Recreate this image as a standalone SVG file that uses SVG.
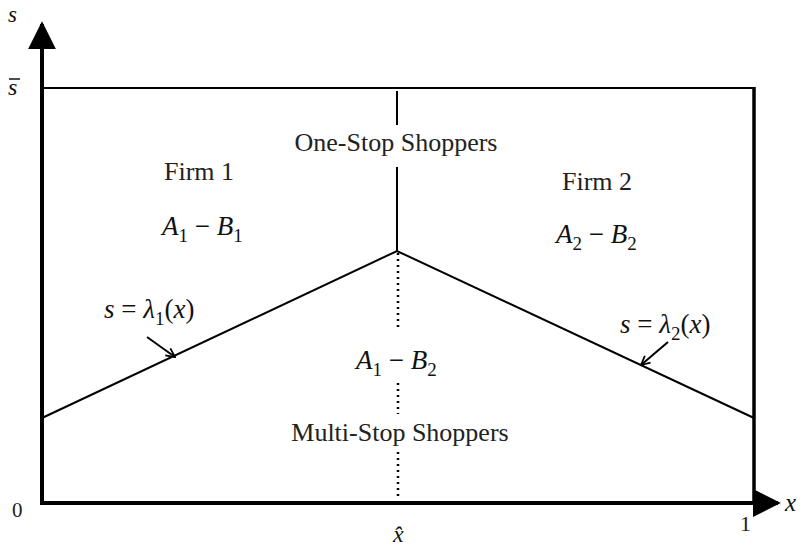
<svg xmlns="http://www.w3.org/2000/svg" width="805" height="550" viewBox="0 0 805 550">
<defs>
<style>
.t{font-family:"Liberation Serif","Times New Roman",serif;font-size:26px;fill:#222}
.m{font-family:"Liberation Serif","Times New Roman",serif;font-style:italic;font-size:27px;fill:#111}
.sub{font-size:19px;font-style:normal}
.ln{stroke:#000;fill:none}
</style>
<marker id="ah" viewBox="0 0 10 10" refX="9" refY="5" markerWidth="11" markerHeight="11" markerUnits="userSpaceOnUse" orient="auto">
<path d="M1,1 L9,5 L1,9" fill="none" stroke="#000" stroke-width="1.6"/>
</marker>
<marker id="axh" viewBox="0 0 10 10" refX="9" refY="5" markerWidth="7" markerHeight="7" orient="auto">
<path d="M0,0 L10,5 L0,10 z" fill="#000"/>
</marker>
</defs>
<rect width="805" height="550" fill="#fff"/>
<g id="connectors">
<line class="ln" x1="42" y1="503" x2="42" y2="24" stroke-width="4" marker-end="url(#axh)"/>
<line class="ln" x1="40" y1="503" x2="778" y2="503" stroke-width="4" marker-end="url(#axh)"/>
<line class="ln" x1="42" y1="88" x2="755" y2="88" stroke-width="2"/>
<line class="ln" x1="754" y1="87" x2="754" y2="503" stroke-width="3.5"/>
<line class="ln" x1="397" y1="91" x2="397" y2="125" stroke-width="2"/>
<line class="ln" x1="397" y1="167" x2="397" y2="251" stroke-width="2"/>
<line class="ln" x1="398" y1="253" x2="398" y2="330" stroke-width="2.5" stroke-dasharray="2,4"/>
<line class="ln" x1="398" y1="383" x2="398" y2="414" stroke-width="2.5" stroke-dasharray="2,4"/>
<line class="ln" x1="398" y1="452" x2="398" y2="500" stroke-width="2.5" stroke-dasharray="2,4"/>
<polyline class="ln" points="42,418 397,251 754,418" stroke-width="2"/>
<line class="ln" x1="147" y1="337" x2="175" y2="357" stroke-width="2" marker-end="url(#ah)"/>
<line class="ln" x1="668" y1="342" x2="641" y2="365" stroke-width="2" marker-end="url(#ah)"/>
</g>
<g id="labels">
<text class="m" x="8" y="22" style="font-size:23px">s</text>
<text class="m" x="8" y="95" style="font-size:24px">s</text>
<line x1="9" y1="79" x2="20" y2="79" stroke="#111" stroke-width="1.5"/>
<text class="t" x="12" y="517" style="font-size:21px">0</text>
<text class="m" x="393" y="542" style="font-size:24px">x̂</text>
<text class="t" x="740" y="531" style="font-size:22px">1</text>
<text class="m" x="785" y="511" style="font-size:25px">x</text>
</g>
<g id="firm1">
<text class="t" x="199" y="180" text-anchor="middle">Firm 1</text>
<text class="m" x="162" y="235">A<tspan class="sub" dy="7">1</tspan><tspan dy="-7" style="font-style:normal"> − </tspan>B<tspan class="sub" dy="7">1</tspan></text>
</g>
<g id="firm2">
<text class="t" x="597" y="190" text-anchor="middle">Firm 2</text>
<text class="m" x="556" y="243">A<tspan class="sub" dy="7">2</tspan><tspan dy="-7" style="font-style:normal"> − </tspan>B<tspan class="sub" dy="7">2</tspan></text>
</g>
<g id="one-stop">
<text class="t" x="396" y="151" text-anchor="middle">One-Stop Shoppers</text>
</g>
<g id="multi-stop">
<text class="t" x="400" y="441" text-anchor="middle">Multi-Stop Shoppers</text>
<text class="m" x="356" y="369">A<tspan class="sub" dy="7">1</tspan><tspan dy="-7" style="font-style:normal"> − </tspan>B<tspan class="sub" dy="7">2</tspan></text>
</g>
<g id="lambda1">
<text class="m" x="104" y="318">s<tspan style="font-style:normal"> = </tspan>λ<tspan class="sub" dy="7">1</tspan><tspan dy="-7" style="font-style:normal">(</tspan>x<tspan style="font-style:normal">)</tspan></text>
</g>
<g id="lambda2">
<text class="m" x="620" y="333">s<tspan style="font-style:normal"> = </tspan>λ<tspan class="sub" dy="7">2</tspan><tspan dy="-7" style="font-style:normal">(</tspan>x<tspan style="font-style:normal">)</tspan></text>
</g>
</svg>
